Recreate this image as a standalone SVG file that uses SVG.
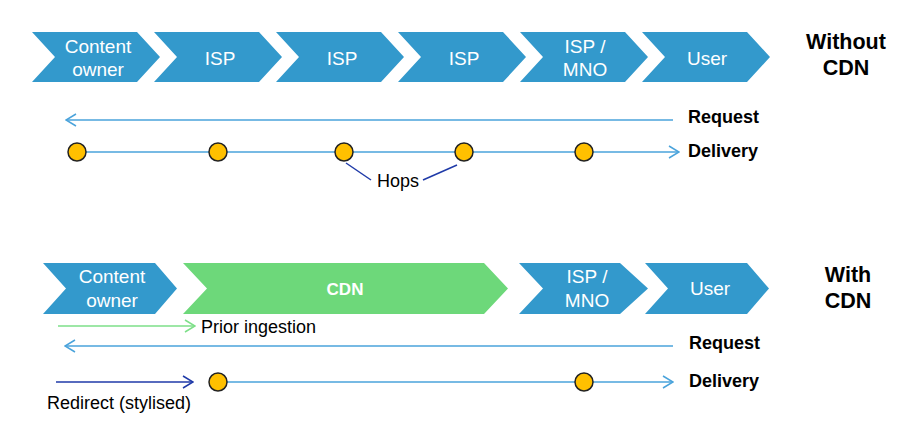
<svg xmlns="http://www.w3.org/2000/svg" width="906" height="441" viewBox="0 0 906 441">
<style>
.blue{fill:#3399cc}
.green{fill:#6dd87a}
.ct{font-family:"Liberation Sans",Arial,sans-serif;font-size:19px;fill:#fff;text-anchor:middle}
.cb{font-family:"Liberation Sans",Arial,sans-serif;font-size:17px;font-weight:bold;fill:#fff;text-anchor:middle}
.ttl{font-family:"Liberation Sans",Arial,sans-serif;font-size:21.5px;font-weight:bold;fill:#000;text-anchor:middle}
.lbl{font-family:"Liberation Sans",Arial,sans-serif;font-size:18px;font-weight:bold;fill:#000}
.txt{font-family:"Liberation Sans",Arial,sans-serif;font-size:18px;fill:#000}
.lb{stroke:#4aa3db;stroke-width:1.5;fill:none}
.lg{stroke:#7ddf88;stroke-width:1.5;fill:none}
.ld{stroke:#1f3aa8;stroke-width:1.5;fill:none}
.hop{fill:#ffc000;stroke:#222;stroke-width:1.5}
</style>
<defs>
<marker id="ab" viewBox="-11 -7 12 14" refX="0" refY="0" markerWidth="12" markerHeight="14" markerUnits="userSpaceOnUse" orient="auto"><path d="M-10,-6 L0,0 L-10,6" fill="none" stroke="#4aa3db" stroke-width="1.5"/></marker>
<marker id="ag" viewBox="-11 -7 12 14" refX="0" refY="0" markerWidth="12" markerHeight="14" markerUnits="userSpaceOnUse" orient="auto"><path d="M-10,-6 L0,0 L-10,6" fill="none" stroke="#7ddf88" stroke-width="1.5"/></marker>
<marker id="ad" viewBox="-11 -7 12 14" refX="0" refY="0" markerWidth="12" markerHeight="14" markerUnits="userSpaceOnUse" orient="auto"><path d="M-10,-6 L0,0 L-10,6" fill="none" stroke="#1f3aa8" stroke-width="1.5"/></marker>
</defs>

<!-- Without CDN row -->
<g id="t-content-owner"><polygon class="blue" points="32,32 137,32 160,57 137,82 32,82 55,57"/><text class="ct" x="98" y="53">Content</text><text class="ct" x="98" y="76">owner</text></g>
<g id="t-isp1"><polygon class="blue" points="154,32 259,32 282,57 259,82 154,82 177,57"/><text class="ct" x="220" y="65">ISP</text></g>
<g id="t-isp2"><polygon class="blue" points="276,32 381,32 404,57 381,82 276,82 299,57"/><text class="ct" x="342" y="65">ISP</text></g>
<g id="t-isp3"><polygon class="blue" points="398,32 503,32 526,57 503,82 398,82 421,57"/><text class="ct" x="464" y="65">ISP</text></g>
<g id="t-ispmno"><polygon class="blue" points="520,32 625,32 648,57 625,82 520,82 543,57"/><text class="ct" x="585" y="53">ISP /</text><text class="ct" x="585" y="76">MNO</text></g>
<g id="t-user"><polygon class="blue" points="642,32 747,32 770,57 747,82 642,82 665,57"/><text class="ct" x="707" y="65">User</text></g>
<g id="t-title"><text class="ttl" x="846" y="49">Without</text><text class="ttl" x="846" y="75">CDN</text></g>

<!-- With CDN row -->
<g id="b-content-owner"><polygon class="blue" points="43,263 155,263 177,288.5 155,314 43,314 66,288.5"/><text class="ct" x="112" y="283">Content</text><text class="ct" x="112" y="307">owner</text></g>
<g id="b-cdn"><polygon class="green" points="183,263 484,263 508,288.5 484,314 183,314 207,288.5"/><text class="cb" x="345" y="295">CDN</text></g>
<g id="b-ispmno"><polygon class="blue" points="519,263 620,263 648,288.5 620,314 519,314 543,288.5"/><text class="ct" x="587" y="283">ISP /</text><text class="ct" x="587" y="307">MNO</text></g>
<g id="b-user"><polygon class="blue" points="645,263 747,263 769,288.5 747,314 645,314 668,288.5"/><text class="ct" x="710" y="295">User</text></g>
<g id="b-title"><text class="ttl" x="848" y="282">With</text><text class="ttl" x="848" y="308">CDN</text></g>

<g id="connectors">
<line class="lb" x1="673" y1="120" x2="66" y2="120" marker-end="url(#ab)"/>
<line class="lb" x1="77" y1="152" x2="679" y2="152" marker-end="url(#ab)"/>
<line class="ld" x1="346" y1="163" x2="371" y2="180"/>
<line class="ld" x1="423" y1="180" x2="457" y2="165"/>
<line class="lg" x1="58" y1="326" x2="195" y2="326" marker-end="url(#ag)"/>
<line class="lb" x1="673" y1="346" x2="65" y2="346" marker-end="url(#ab)"/>
<line class="ld" x1="56" y1="382" x2="193" y2="382" marker-end="url(#ad)"/>
<line class="lb" x1="218" y1="382" x2="673" y2="382" marker-end="url(#ab)"/>
</g>

<g id="hops-top">
<circle class="hop" cx="77" cy="152" r="9"/>
<circle class="hop" cx="218" cy="152" r="9"/>
<circle class="hop" cx="344" cy="152" r="9"/>
<circle class="hop" cx="464" cy="152" r="9"/>
<circle class="hop" cx="584" cy="152" r="9"/>
</g>
<g id="hops-bottom">
<circle class="hop" cx="218" cy="382" r="9"/>
<circle class="hop" cx="584" cy="382" r="9"/>
</g>

<g id="labels">
<text class="lbl" x="688" y="123">Request</text>
<text class="lbl" x="688" y="157">Delivery</text>
<text class="txt" x="377" y="187">Hops</text>
<text class="txt" x="201" y="333">Prior ingestion</text>
<text class="lbl" x="689" y="349">Request</text>
<text class="lbl" x="689" y="387">Delivery</text>
<text class="txt" x="47" y="409">Redirect (stylised)</text>
</g>
</svg>
